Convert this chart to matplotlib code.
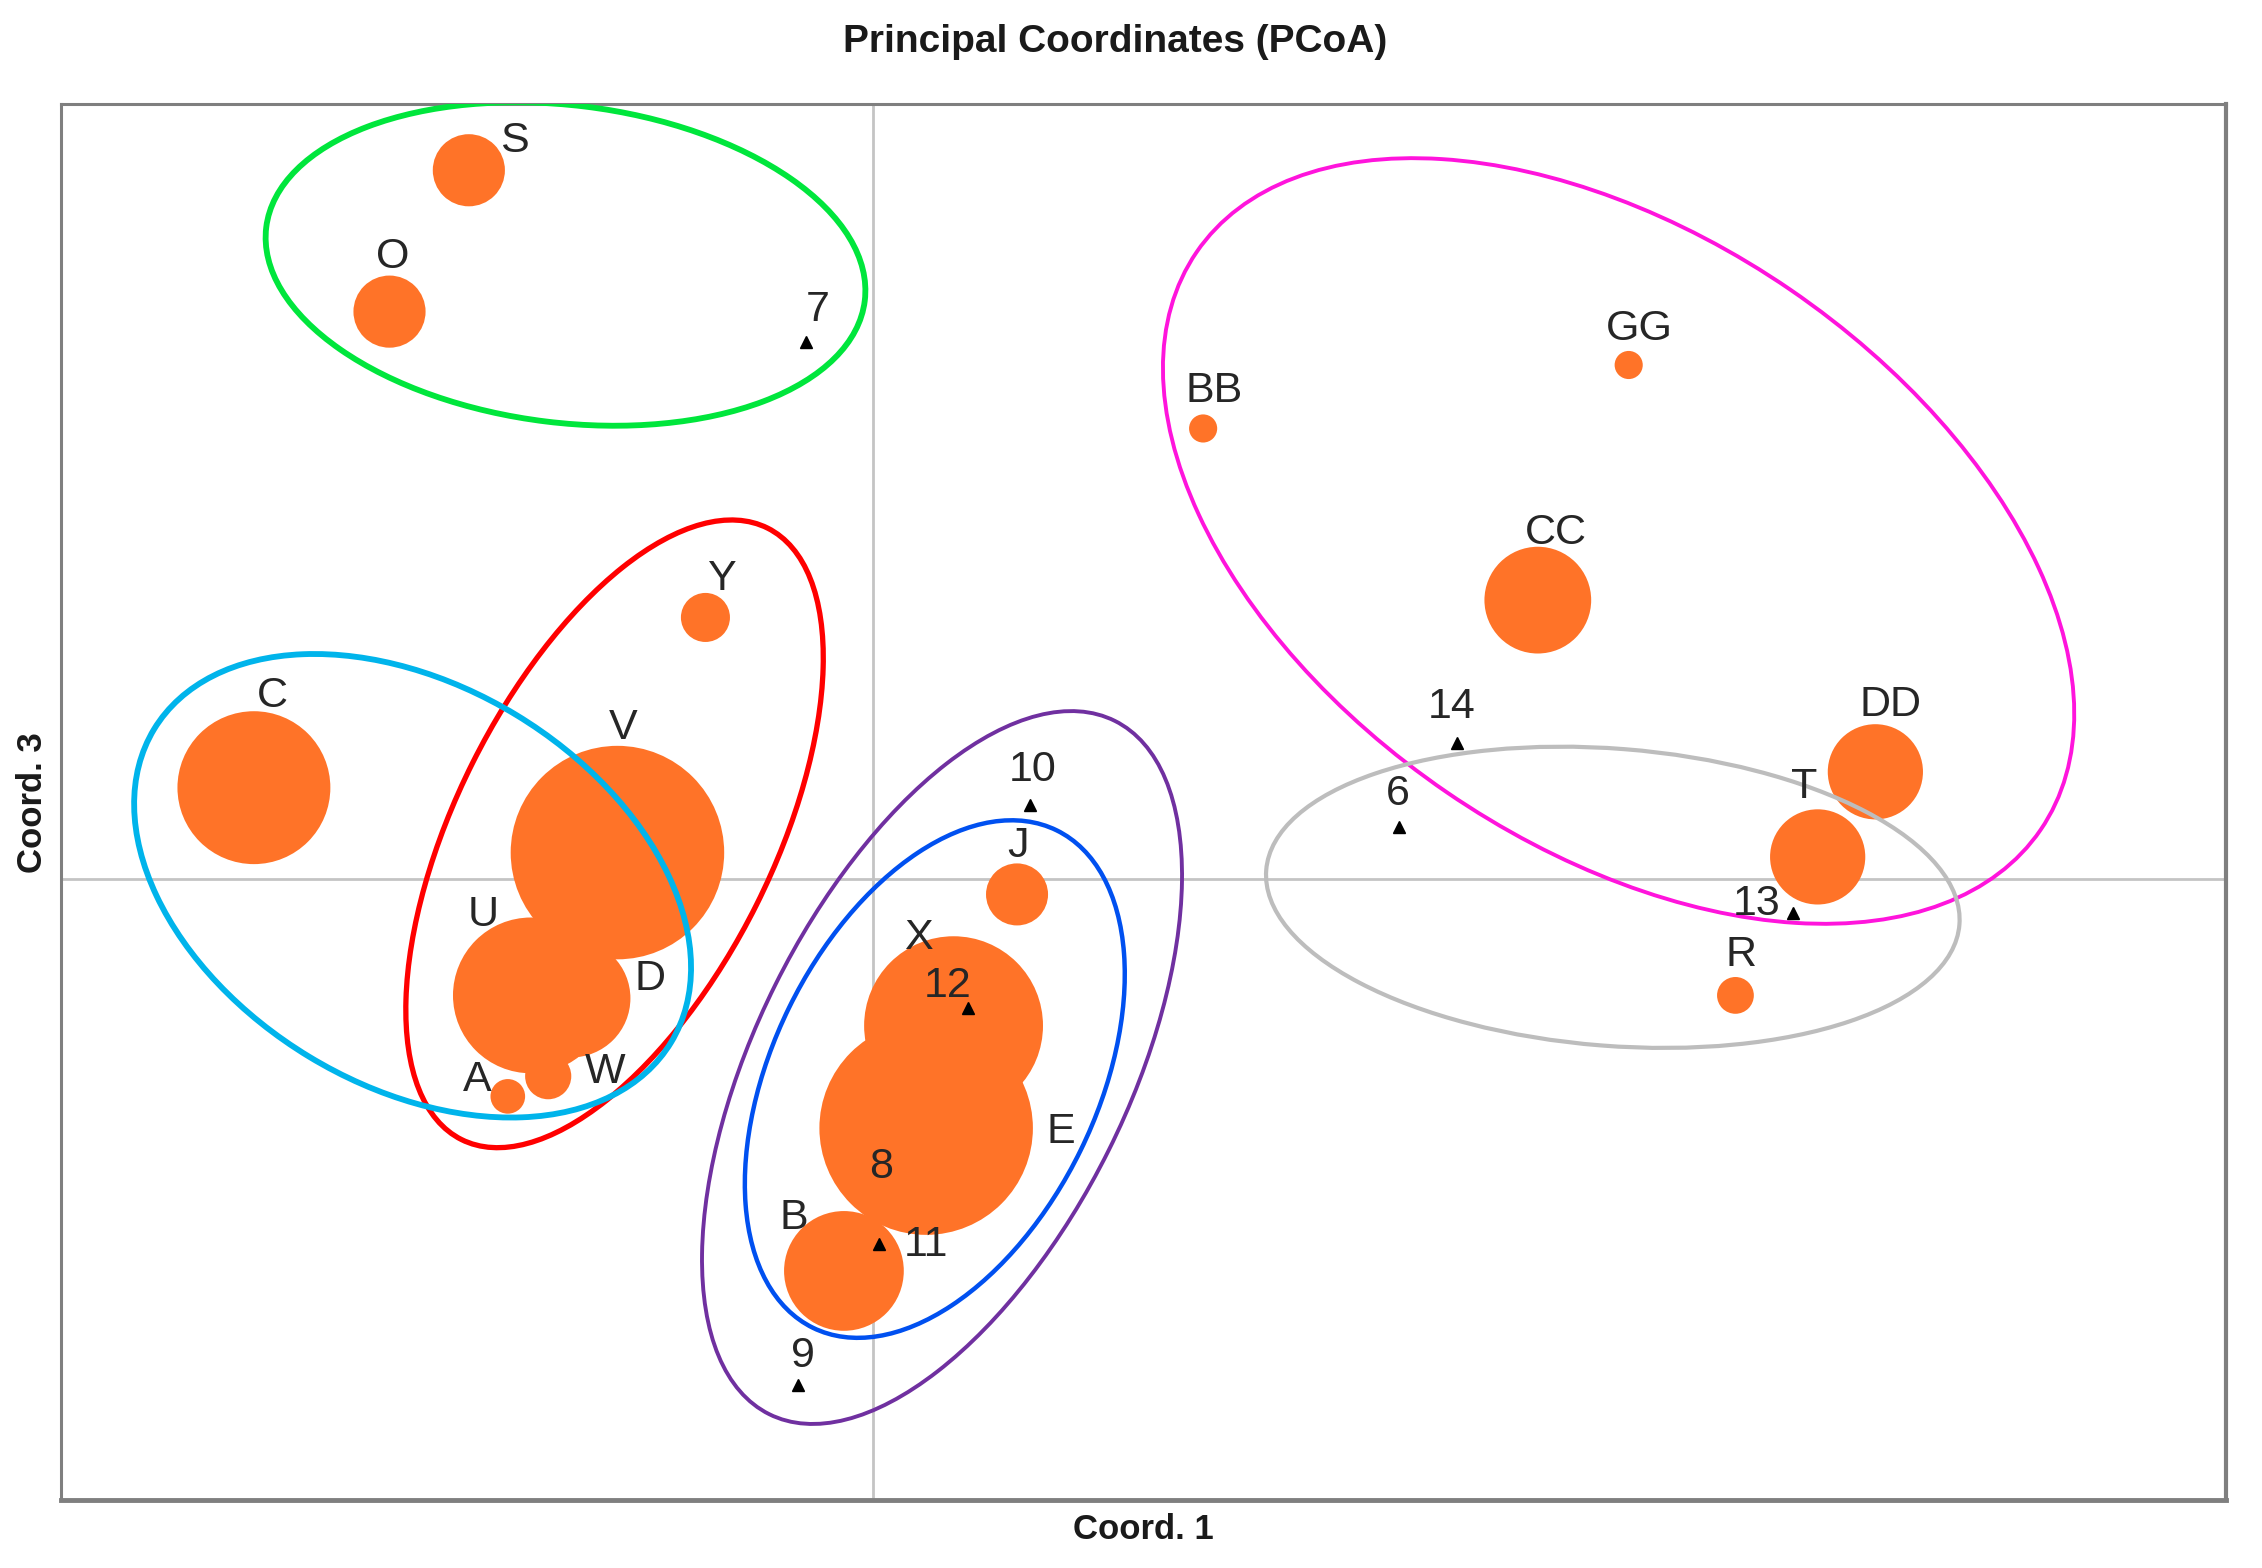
"""
PCoA bubble plot — Coord. 1 vs Coord. 3 with group ellipses.
"""

import matplotlib
matplotlib.use("Agg")
import matplotlib.pyplot as plt
from matplotlib.patches import Circle, Ellipse

# ── Data ──────────────────────────────────────────────────────────────────
# populations (orange bubbles): coordinates and bubble radius (data units)
bubble_labels = ["S", "O", "C", "V", "U", "D", "A", "W", "Y", "J", "X", "E", "B",
                 "BB", "GG", "CC", "DD", "T", "R"]
bubble_x = [-0.1120, -0.1340, -0.1716, -0.0708, -0.0948, -0.0836, -0.1012, -0.0900,
            -0.0464, 0.0400, 0.0224, 0.0148, -0.0080,
            0.0916, 0.2096, 0.1844, 0.2780, 0.2620, 0.2392]
bubble_y = [0.1964, 0.1572, 0.0252, 0.0072, -0.0324, -0.0332, -0.0604, -0.0548,
            0.0724, -0.0044, -0.0408, -0.0692, -0.1088,
            0.1248, 0.1424, 0.0772, 0.0296, 0.0060, -0.0324]
bubble_r = [0.0100, 0.0100, 0.0212, 0.0296, 0.0216, 0.0164, 0.0048, 0.0064,
            0.0068, 0.0086, 0.0248, 0.0296, 0.0166,
            0.0039, 0.0039, 0.0148, 0.0132, 0.0132, 0.0051]

# reference samples (black triangles)
tri_labels = ["7", "14", "6", "13", "10", "12", "11", "9", "8"]
tri_x = [-0.0184, 0.1620, 0.1460, 0.2552, 0.0436, 0.0264, 0.0016, -0.0208, 0.0024]
tri_y = [0.1488, 0.0376, 0.0142, -0.0095, 0.0204, -0.0360, -0.1012, -0.1404, -0.0884]

# group ellipses: centre, width, height, angle
ell_colors = ["#00E63C", "#FF0000", "#00B4EB", "#7030A0", "#0050F0", "#FF14DC", "#BDBDBD"]
ell_cx = [-0.0852, -0.0716, -0.1276, 0.0192, 0.0172, 0.2068, 0.2052]
ell_cy = [0.1704, 0.0124, -0.0020, -0.0524, -0.0556, 0.0936, -0.0052]
ell_w = [0.1672, 0.1896, 0.1676, 0.2148, 0.1536, 0.2836, 0.1928]
ell_h = [0.0880, 0.0880, 0.1108, 0.1032, 0.0900, 0.1688, 0.0824]
ell_angle = [-7.0, 63.4, -31.2, 63.5, 63.9, -34.4, -4.5]
ell_lw = [4.2, 3.8, 4.2, 2.8, 3.2, 2.8, 3.0]

# ── Label offsets (points, x right / y up) ───────────────────────────────────
bubble_offsets = {
    "S": (33, 21), "O": (2, 39), "C": (13, 66), "V": (4, 90), "U": (-34, 58),
    "D": (57, 14), "A": (-22, 12), "W": (41, 3), "Y": (12, 28), "J": (1, 35),
    "X": (-25, 63), "E": (97, -3), "B": (-36, 38), "BB": (8, 27), "GG": (8, 26),
    "CC": (13, 48), "DD": (11, 48), "T": (-10, 50), "R": (4, 29),
}
tri_offsets = {
    "7": (8, 23), "14": (-4, 26), "6": (-1, 24), "13": (-26, 6), "10": (2, 25),
    "12": (-15, 16), "11": (34, -1), "9": (4, 21), "8": (0, 22),
}

ORANGE = "#FF7328"
TEXT = "#262626"
LABEL_FONT = ["Liberation Sans", "DejaVu Sans"]


def main():
    fig = plt.figure(figsize=(22.62, 15.68), dpi=100)
    ax = fig.add_axes([0.02679, 0.04318, 0.95726, 0.89056])
    ax.set_xlim(-0.2252, 0.3752)
    ax.set_ylim(-0.1724, 0.2148)

    # zero lines
    ax.axhline(0, color="#C4C4C4", linewidth=2.0, zorder=1)
    ax.axvline(0, color="#C4C4C4", linewidth=2.0, zorder=1)

    # bubbles
    for x, y, r in zip(bubble_x, bubble_y, bubble_r):
        ax.add_patch(Circle((x, y), r, facecolor=ORANGE, edgecolor="none", zorder=2))

    # ellipses
    for cx, cy, w, h, a, c, lw in zip(ell_cx, ell_cy, ell_w, ell_h, ell_angle, ell_colors, ell_lw):
        ax.add_patch(Ellipse((cx, cy), w, h, angle=a, fill=False, edgecolor=c,
                             linewidth=lw, zorder=3))

    # triangles ("8" sits under the E bubble)
    for lab, x, y in zip(tri_labels, tri_x, tri_y):
        z = 1.5 if lab == "8" else 4
        ax.plot(x, y, marker="^", color="black", markersize=9, linestyle="none", zorder=z)

    # labels
    for lab, x, y in zip(bubble_labels, bubble_x, bubble_y):
        ax.annotate(lab, (x, y), xytext=bubble_offsets[lab], textcoords="offset points",
                    ha="center", va="center", fontsize=31, color=TEXT,
                    family=LABEL_FONT, zorder=5)
    for lab, x, y in zip(tri_labels, tri_x, tri_y):
        ax.annotate(lab, (x, y), xytext=tri_offsets[lab], textcoords="offset points",
                    ha="center", va="center", fontsize=31, color=TEXT,
                    family=LABEL_FONT, zorder=5)

    ax.set_xticks([])
    ax.set_yticks([])
    for side in ["top", "bottom", "left", "right"]:
        ax.spines[side].set_color("#7F7F7F")
        ax.spines[side].set_linewidth(2.2)
    ax.spines["bottom"].set_linewidth(3.5)
    ax.spines["right"].set_linewidth(3.0)

    fig.text(0.4932, 0.9735, "Principal Coordinates (PCoA)", ha="center", va="center",
             fontsize=28, fontweight="bold", family=LABEL_FONT, color="#1A1A1A")
    fig.text(0.5055, 0.0245, "Coord. 1", ha="center", va="center",
             fontsize=25, fontweight="bold", family=LABEL_FONT, color="#1A1A1A")
    fig.text(0.0143, 0.4880, "Coord. 3", ha="center", va="center", rotation=90,
             fontsize=25, fontweight="bold", family=LABEL_FONT, color="#1A1A1A")

    fig.savefig("out.png", dpi=100)
    plt.close(fig)


if __name__ == "__main__":
    main()
